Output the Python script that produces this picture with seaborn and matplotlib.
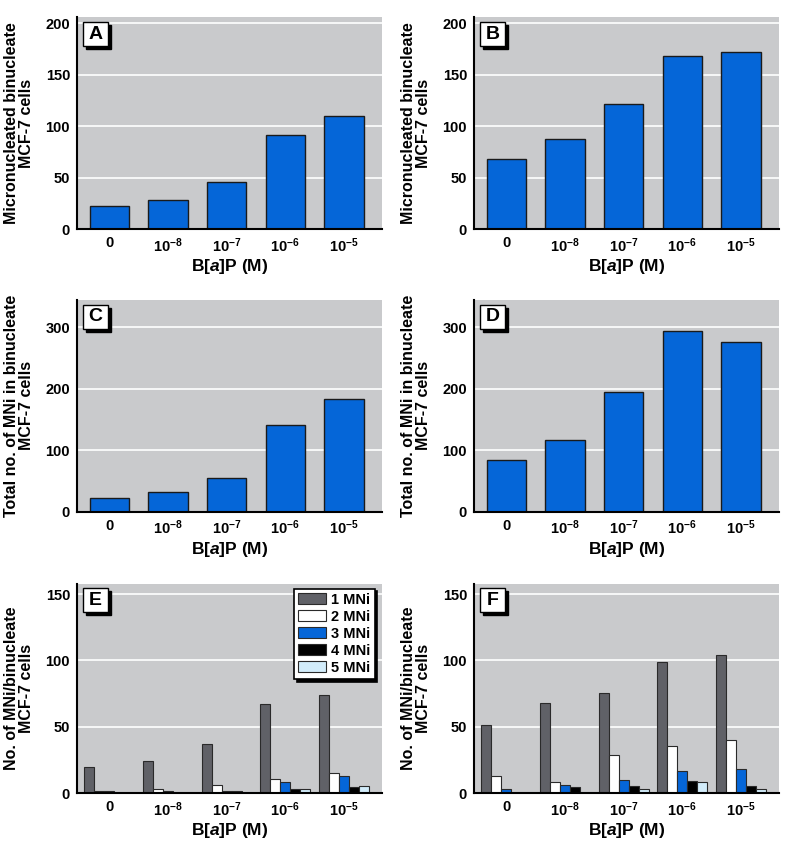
import numpy as np
import pandas as pd
import seaborn as sns
import matplotlib.pyplot as plt
from matplotlib.patches import Rectangle

# data
conc = ['0', '1e-8', '1e-7', '1e-6', '1e-5']
conc_labels = ['0', r'10$^{-8}$', r'10$^{-7}$', r'10$^{-6}$', r'10$^{-5}$']

mn_cells_a = [22, 28, 46, 91, 110]
mn_cells_b = [68, 87, 121, 168, 172]
total_mni_c = [23, 33, 55, 141, 184]
total_mni_d = [85, 117, 194, 293, 275]

mni_levels = ['1 MNi', '2 MNi', '3 MNi', '4 MNi', '5 MNi']
mni_e = {
    '1 MNi': [19.6, 24.4, 37.2, 67.3, 74.0],
    '2 MNi': [1.3, 3.5, 6.3, 10.6, 15.3],
    '3 MNi': [1.5, 1.8, 1.3, 8.5, 13.0],
    '4 MNi': [0.3, 0.3, 1.3, 3.5, 4.3],
    '5 MNi': [0.2, 0.2, 0.2, 3.3, 5.5],
}
mni_f = {
    '1 MNi': [51.4, 67.8, 75.4, 99.2, 104.3],
    '2 MNi': [13.2, 8.6, 28.4, 35.2, 40.3],
    '3 MNi': [3.3, 6.3, 9.6, 16.7, 18.5],
    '4 MNi': [0.3, 4.6, 5.6, 9.4, 5.6],
    '5 MNi': [0.2, 0.3, 3.3, 8.6, 3.3],
}

blue = '#0566d8'
mni_colors = ['#606167', '#ffffff', blue, '#000000', '#d2ecfa']
bg = '#c9cacc'

sns.set_style('white')
fnt = 'Liberation Sans'
plt.rcParams['font.family'] = [fnt, 'DejaVu Sans']
plt.rcParams['font.weight'] = 'bold'
plt.rcParams['text.color'] = 'black'
plt.rcParams['axes.labelcolor'] = 'black'
plt.rcParams['xtick.color'] = 'black'
plt.rcParams['ytick.color'] = 'black'
plt.rcParams['mathtext.fontset'] = 'custom'
plt.rcParams['mathtext.rm'] = fnt + ':bold'
plt.rcParams['mathtext.it'] = fnt + ':italic:bold'
plt.rcParams['mathtext.bf'] = fnt + ':bold'

fig = plt.figure(figsize=(7.89, 8.42), dpi=100)

lefts = [0.0976, 0.6008]
bottoms = [0.728, 0.392, 0.058]
w, h = 0.3866, 0.2518


def style_ax(ax, letter, ylabel, ymax, yticks):
    ax.set_facecolor(bg)
    ax.set_ylim(0, ymax)
    ax.set_yticks(yticks)
    ax.set_xticks(range(5))
    ax.set_xticklabels(conc_labels)
    ax.set_xlim(-0.55, 4.65)
    ax.yaxis.grid(True, color='white', linewidth=1.2)
    ax.set_axisbelow(True)
    for s in ['top', 'right']:
        ax.spines[s].set_visible(False)
    for s in ['left', 'bottom']:
        ax.spines[s].set_color('black')
        ax.spines[s].set_linewidth(1.5)
    ax.tick_params(length=0, labelsize=10.5, pad=5)
    ax.set_xlabel(r'B[$a$]P (M)', fontsize=12.5, fontweight='bold', labelpad=2)
    ax.set_ylabel(ylabel, fontsize=11.5, fontweight='bold', linespacing=1.0, labelpad=8)
    # panel letter box with black drop shadow
    bw, bh = 0.08, 0.115
    x0, y0 = 0.021, 0.862
    dx, dy = 0.010, -0.014
    ax.add_patch(Rectangle((x0 + dx, y0 + dy), bw, bh, transform=ax.transAxes,
                           fc='black', ec='black', zorder=5, clip_on=False))
    ax.add_patch(Rectangle((x0, y0), bw, bh, transform=ax.transAxes,
                           fc='white', ec='black', lw=1, zorder=6, clip_on=False))
    ax.text(x0 + bw / 2, y0 + bh / 2, letter, transform=ax.transAxes, ha='center',
            va='center', fontsize=14, color='black', zorder=7)


def simple_panel(col, row, vals, letter, ylabel, ymax, yticks):
    ax = fig.add_axes([lefts[col], bottoms[row], w, h])
    df = pd.DataFrame({'conc': conc, 'val': vals})
    sns.barplot(data=df, x='conc', y='val', color=blue, width=0.67,
                edgecolor='#1a1a1a', linewidth=1, saturation=1, ax=ax)
    style_ax(ax, letter, ylabel, ymax, yticks)
    return ax


def mni_panel(col, vals, letter, legend):
    ax = fig.add_axes([lefts[col], bottoms[2], w, 0.249])
    rows = []
    for lvl in mni_levels:
        for c, v in zip(conc, vals[lvl]):
            rows.append({'conc': c, 'mni': lvl, 'val': v})
    df = pd.DataFrame(rows)
    sns.barplot(data=df, x='conc', y='val', hue='mni', hue_order=mni_levels,
                palette=mni_colors, width=0.85, edgecolor='#2a2a2a', linewidth=0.8,
                saturation=1, legend=legend, ax=ax)
    style_ax(ax, letter, 'No. of MNi/binucleate\nMCF-7 cells', 158, [0, 50, 100, 150])
    if legend:
        leg = ax.legend(loc='upper right', bbox_to_anchor=(0.985, 0.99), fontsize=10.5,
                        frameon=True, fancybox=False, edgecolor='black',
                        shadow={'color': 'black', 'alpha': 1}, borderpad=0.3,
                        handlelength=1.9, handleheight=0.75, handletextpad=0.35,
                        labelspacing=0.2, borderaxespad=0.2)
        leg.get_frame().set_linewidth(1.2)
    return ax


ylab_ab = 'Micronucleated binucleate\nMCF-7 cells'
ylab_cd = 'Total no. of MNi in binucleate\nMCF-7 cells'
simple_panel(0, 0, mn_cells_a, 'A', ylab_ab, 206, [0, 50, 100, 150, 200])
simple_panel(1, 0, mn_cells_b, 'B', ylab_ab, 206, [0, 50, 100, 150, 200])
simple_panel(0, 1, total_mni_c, 'C', ylab_cd, 344, [0, 100, 200, 300])
simple_panel(1, 1, total_mni_d, 'D', ylab_cd, 344, [0, 100, 200, 300])
mni_panel(0, mni_e, 'E', True)
mni_panel(1, mni_f, 'F', False)

fig.savefig('out.png', dpi=100, facecolor='white')
